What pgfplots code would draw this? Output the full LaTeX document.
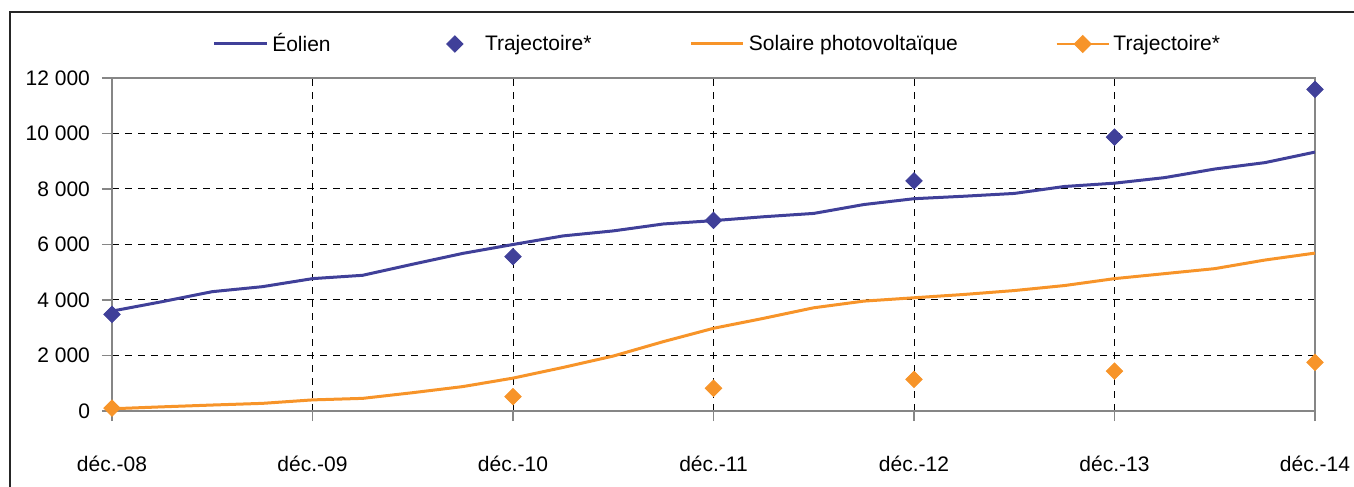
\documentclass[border=0pt]{standalone}
\usepackage{pgfplots}
\pgfplotsset{compat=1.18}
\usepackage{fontspec}
\setmainfont{Liberation Sans}
\definecolor{eolblue}{RGB}{64,64,153}
\definecolor{pvorange}{RGB}{247,148,41}
\definecolor{axgray}{RGB}{134,134,134}

\pgfplotstableread{
q   eol   pv
0   3600  80
1   3940  150
2   4300  215
3   4480  275
4   4770  400
5   4890  455
6   5290  660
7   5680  880
8   6000  1185
9   6310  1570
10  6490  1980
11  6740  2500
12  6860  2980
13  7000  3340
14  7120  3720
15  7440  3960
16  7650  4080
17  7740  4200
18  7840  4340
19  8090  4520
20  8210  4770
21  8410  4950
22  8720  5130
23  8950  5440
24  9330  5690
}\mainseries

\pgfplotstableread{
q   eol    pv
0   3480   100
8   5560   520
12  6870   820
16  8290   1140
20  9870   1440
24  11590  1750
}\trajseries

\begin{document}
\begin{tikzpicture}[font=\fontsize{10.5pt}{12pt}\selectfont]
\path[use as bounding box] (0,0) rectangle (677pt,243.5pt);
\begin{scope}
\clip (0,0) rectangle (677pt,243.5pt);
\draw[line width=1pt, black!85] (5pt,-5pt) -- (5pt,237.5pt) -- (690pt,237.5pt);
\end{scope}
\begin{axis}[
  at={(56pt,38pt)}, anchor=south west,
  scale only axis, width=601.5pt, height=166.5pt,
  xmin=0, xmax=24, ymin=0, ymax=12000,
  xtick={0,4,8,12,16,20,24},
  xticklabels={déc.-08,déc.-09,déc.-10,déc.-11,déc.-12,déc.-13,déc.-14},
  ytick={0,2000,4000,6000,8000,10000,12000},
  yticklabels={0,2 000,4 000,6 000,8 000,10 000,12 000},
  scaled y ticks=false,
  tick pos=left, tick align=outside, major tick length=5pt,
  tick style={axgray, line width=0.8pt},
  axis line style={axgray, line width=1pt},
  grid=major,
  major grid style={black, line width=0.5pt, dash pattern=on 3.5pt off 3pt},
  xticklabel style={yshift=-14pt},
  yticklabel style={xshift=-2.5pt},
  legend style={at={(0.5,1)}, anchor=center, yshift=17pt, xshift=2.5pt,
    draw=none, fill=none, legend columns=4,
    /tikz/every even column/.append style={column sep=47pt},
    font=\fontsize{10.5pt}{12pt}\selectfont},
  legend cell align=left,
]
\addplot[eolblue, line width=1.5pt, no markers,
  legend image code/.code={\draw[line width=1.5pt] (0cm,0cm) -- (0.92cm,0cm);}]
  table[x=q, y=eol] {\mainseries};
\addlegendentry{Éolien}
\addplot[only marks, mark=square*, mark size=2.9pt, eolblue,
  mark options={solid, fill=eolblue, draw=eolblue, rotate=45},
  legend image code/.code={\path[draw=none] (0cm,0cm) (0.92cm,0cm); \draw[mark=square*] plot coordinates {(0.46cm,0cm)};}]
  table[x=q, y=eol] {\trajseries};
\addlegendentry{Trajectoire*}
\addplot[pvorange, line width=1.5pt, no markers,
  legend image code/.code={\draw[line width=1.5pt] (0cm,0cm) -- (0.92cm,0cm);}]
  table[x=q, y=pv] {\mainseries};
\addlegendentry{Solaire photovoltaïque}
\addlegendimage{pvorange, line width=0.6pt, mark=square*, mark size=2.9pt,
  mark options={solid, fill=pvorange, draw=pvorange, rotate=45},
  legend image code/.code={\draw (0cm,0cm) -- (0.92cm,0cm); \draw[mark=square*] plot coordinates {(0.46cm,0cm)};}}
\addlegendentry{Trajectoire*}
\addplot[only marks, mark=square*, mark size=2.9pt, pvorange, forget plot,
  mark options={solid, fill=pvorange, draw=pvorange, rotate=45}]
  table[x=q, y=pv] {\trajseries};
\end{axis}
\end{tikzpicture}
\end{document}
